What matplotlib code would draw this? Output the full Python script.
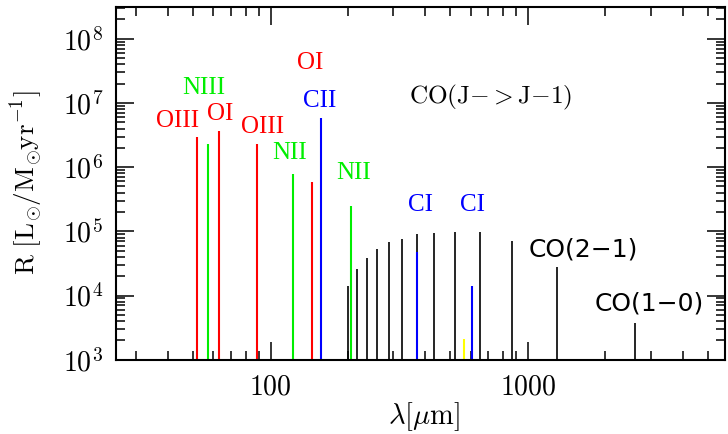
#Import Libraries
import matplotlib
matplotlib.use("Agg")
import matplotlib.pyplot as plt
from matplotlib.ticker import LogLocator, FuncFormatter, NullFormatter
import numpy as np

plt.rcParams["mathtext.fontset"] = "cm"

#CO rotational ladder, J -> J-1 for J = 1..13
co_wavelength = [2600.8, 1300.4, 866.96, 650.25, 520.23, 433.56, 371.65,
                 325.23, 289.12, 260.24, 236.61, 216.93, 200.27]
co_ratio = [3.7e3, 2.8e4, 7.1e4, 9.9e4, 9.6e4, 9.5e4, 9.0e4,
            7.7e4, 6.9e4, 5.3e4, 3.8e4, 2.6e4, 1.4e4]

#Fine structure lines
fs_names = ["OIII", "NIII", "OI", "OIII", "NII", "OI", "CII", "NII", "CI", "CI"]
fs_wavelength = [51.8, 57.3, 63.2, 88.4, 121.9, 145.5, 157.7, 205.2, 370.4, 609.1]
fs_ratio = [3.0e6, 2.3e6, 3.7e6, 2.3e6, 7.9e5, 5.9e5, 5.9e6, 2.5e5, 4.8e4, 1.4e4]
fs_colors = ["red", "#00ee00", "red", "red", "#00ee00", "red", "blue", "#00ee00", "blue", "blue"]

#Faint extra line
extra_wavelength = [564.0]
extra_ratio = [2.1e3]

#Label positions (wavelength, R)
fs_label_pos = [(43.4, 5.2e6), (54.8, 1.71e7), (63.5, 6.7e6), (92.9, 4.2e6),
                (118.2, 1.66e6), (142.6, 4.2e7), (154.6, 1.07e7), (209.6, 8.1e5),
                (381.6, 2.57e5), (607.5, 2.57e5)]

fig = plt.figure(figsize=(7.28, 4.34), dpi=100)
ax = fig.add_axes([0.1589, 0.1712, 0.837, 0.8134])

ymin = 1e3
ax.vlines(co_wavelength, ymin, co_ratio, colors="black", linewidth=1.2)
ax.vlines(extra_wavelength, ymin, extra_ratio, colors="yellow", linewidth=1.5)
ax.vlines(fs_wavelength, ymin, fs_ratio, colors=fs_colors, linewidth=1.5)

#Labels
for name, (lx, ly), c in zip(fs_names, fs_label_pos, fs_colors):
    ax.text(lx, ly, name, color=c, fontsize=18, family="Liberation Serif",
            ha="center", va="center")

ax.text(720, 1.21e7, r"$\mathrm{CO(J{-}{>}J{-}1)}$", fontsize=18.2,
        ha="center", va="center")
ax.text(1648, 5.3e4, "CO(2\u22121)", fontsize=18, family="DejaVu Sans",
        ha="center", va="center")
ax.text(2960, 7.4e3, "CO(1\u22120)", fontsize=18, family="DejaVu Sans",
        ha="center", va="center")

#Axes
ax.set_xscale("log")
ax.set_yscale("log")
ax.set_xlim(25, 5840)
ax.set_ylim(1e3, 10 ** 8.5)

ax.xaxis.set_major_locator(LogLocator(base=10, subs=(1.0,)))
ax.xaxis.set_minor_locator(LogLocator(base=10, subs=range(2, 10)))
ax.xaxis.set_major_formatter(FuncFormatter(lambda v, p: r"$%d$" % round(v)))
ax.xaxis.set_minor_formatter(NullFormatter())
ax.yaxis.set_major_locator(LogLocator(base=10, subs=(1.0,)))
ax.yaxis.set_minor_locator(LogLocator(base=10, subs=range(2, 10)))
ax.yaxis.set_major_formatter(FuncFormatter(lambda v, p: r"$10^{%d}$" % round(np.log10(v))))
ax.yaxis.set_minor_formatter(NullFormatter())

ax.tick_params(which="both", direction="in", top=True, right=True, width=1.1)
ax.tick_params(which="major", length=13, labelsize=20, pad=9)
ax.tick_params(which="minor", length=6.5)
for s in ax.spines.values():
    s.set_linewidth(1.5)

ax.set_xlabel(r"$\lambda[\mu\mathrm{m}]$", fontsize=20.5, va="center")
ax.xaxis.set_label_coords(0.506, -0.16)
ax.set_ylabel(r"$\mathrm{R\ [L_{\!\odot}\!/M_{\!\odot}\!yr^{-1}]}$", fontsize=19.5, va="center")
ax.yaxis.set_label_coords(-0.144, 0.5)

plt.savefig("out.png", dpi=100)
